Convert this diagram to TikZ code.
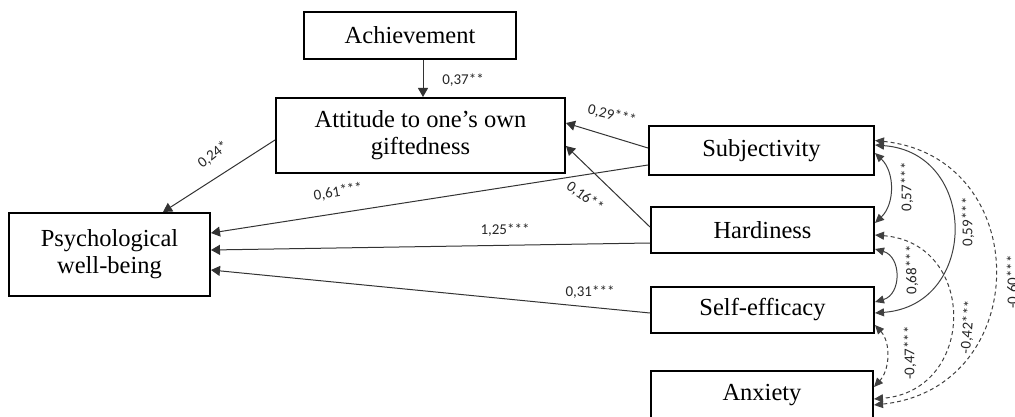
\documentclass[tikz,border=0pt]{standalone}
\usepackage{fontspec}
\setmainfont{Liberation Serif}
\newfontfamily\lblfont{Carlito}
\usetikzlibrary{arrows.meta,calc}
\begin{document}
\begin{tikzpicture}[x=1pt,y=-1pt,
  box/.style={draw, line width=2pt, font=\fontsize{24.5}{27}\selectfont, align=center, inner sep=0pt},
  lbl/.style={font=\lblfont\fontsize{15}{17}\selectfont, inner sep=0pt, text=black!85},
  arr/.style={line width=1pt, draw=black!80, -{Triangle[length=9pt,width=10pt]}},
  cor/.style={line width=1pt, draw=black!75, {Triangle[length=9pt,width=8pt]}-{Triangle[length=9pt,width=8pt]}},
  dcor/.style={cor, dash pattern=on 4pt off 3pt}]
\useasboundingbox (0,0) rectangle (1015,417);
% boxes
\node[box, minimum width=212pt, minimum height=47pt] (ach) at (410,35.5) {Achievement};
\node[box, minimum width=289pt, minimum height=75pt] (att) at (420.5,135.5) {Attitude to one’s own\\giftedness};
\node[box, minimum width=201pt, minimum height=83pt] (psy) at (109.5,254.5) {Psychological\\well-being};
\node[box, minimum width=225pt, minimum height=49pt] (sub) at (761.5,150.5) {Subjectivity};
\node[box, minimum width=223pt, minimum height=46pt] (har) at (762.5,230) {Hardiness};
\node[box, minimum width=223pt, minimum height=46pt] (sef) at (762.5,310) {Self-efficacy};
\node[box, minimum width=222pt, minimum height=49pt] (anx) at (762,395.5) {Anxiety};
% paths
\draw[arr] ([xshift=13pt]ach.south) -- ([xshift=2.5pt]att.north);
\draw[arr] ($(att.west)+(0,4.5)$) -- ($(psy.north)+(53.5,0)$);
\draw[arr] ($(sub.west)+(0,-2.5)$) -- ($(att.east)+(0,-12.5)$);
\draw[arr] ($(har.west)+(0,-3)$) -- ($(att.east)+(0,10.5)$);
\draw[arr] ($(sub.west)+(0,14.5)$) -- ($(psy.east)+(0,-21.5)$);
\draw[arr] ($(har.west)+(0,13)$) -- ($(psy.east)+(0,-4.5)$);
\draw[arr] ($(sef.west)+(0,3)$) -- ($(psy.east)+(0,15.5)$);
% correlation end points
\coordinate (s1) at ($(sub.east)+(0,2.5)$);
\coordinate (s2) at ($(sub.east)+(0,-5.5)$);
\coordinate (s3) at ($(sub.east)+(0,-10)$);
\coordinate (h1) at ($(har.east)+(0,-7)$);
\coordinate (h2) at ($(har.east)+(0,5)$);
\coordinate (h3) at ($(har.east)+(0,19)$);
\coordinate (e1) at ($(sef.east)+(0,-8)$);
\coordinate (e2) at ($(sef.east)+(0,3)$);
\coordinate (e3) at ($(sef.east)+(0,15)$);
\coordinate (a1) at ($(anx.east)+(0,-8.5)$);
\coordinate (a2) at ($(anx.east)+(0,3.5)$);
\coordinate (a3) at ($(anx.east)+(0,9.5)$);
\draw[cor] (s1) .. controls ($(s1)+(20,19)$) and ($(h1)+(20,-19)$) .. (h1);
\draw[cor] (s2) .. controls ($(s2)+(104,7.6)$) and ($(e2)+(104,-7.6)$) .. (e2);
\draw[dcor] (s3) .. controls ($(s3)+(160,16.8)$) and ($(a3)+(160,-16.8)$) .. (a3);
\draw[cor] (h3) .. controls ($(h3)+(26.7,7.7)$) and ($(e1)+(26.7,-7.7)$) .. (e1);
\draw[dcor] (h2) .. controls ($(h2)+(102.7,8.2)$) and ($(a2)+(102.7,-8.2)$) .. (a2);
\draw[dcor] (e3) .. controls ($(e3)+(16,17.5)$) and ($(a1)+(16,-17.5)$) .. (a1);
% labels
\node[lbl] (l37) at (463,80) {0,37**};
\node[lbl, rotate=38] (l24) at (213,155) {0,24*};
\node[lbl, rotate=10] (l61) at (338,192) {0,61***};
\node[lbl] (l125) at (505,230) {1,25***};
\node[lbl] (l31) at (590,292) {0,31***};
\node[lbl, rotate=-13] (l29) at (612,115) {0,29***};
\node[lbl, rotate=-36] (l16) at (585,197) {0,16**};
\node[lbl, rotate=90] (l57) at (907,187) {0,57***};
\node[lbl, rotate=90] (l59) at (968,222) {0,59***};
\node[lbl, rotate=90] (l60) at (1013,282) {-0,60***};
\node[lbl, rotate=90] (l68) at (912,270) {0,68***};
\node[lbl, rotate=85] (l42) at (968,327) {-0,42***};
\node[lbl, rotate=90] (l47) at (910,353) {-0,47***};
\end{tikzpicture}
\end{document}
